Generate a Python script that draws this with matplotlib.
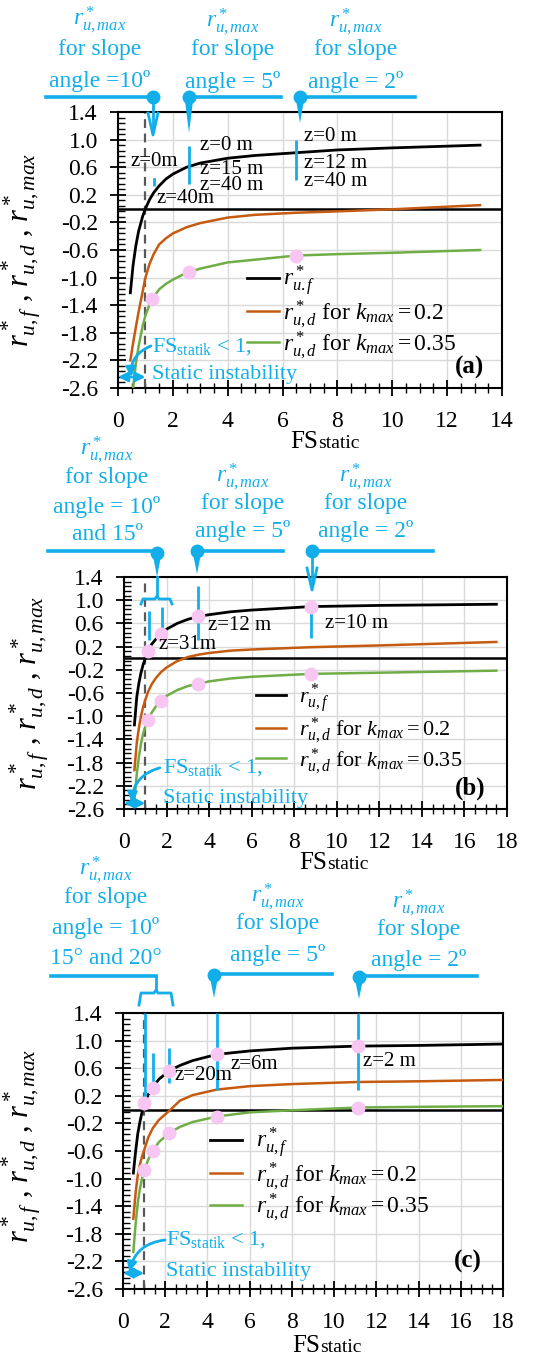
import matplotlib
matplotlib.use('Agg')
import matplotlib.pyplot as plt
import matplotlib.transforms as mtransforms
from matplotlib.lines import Line2D
from matplotlib.patches import Polygon
from matplotlib.ticker import MultipleLocator, FixedLocator
import numpy as np

plt.rcParams['font.family'] = ['Liberation Serif', 'DejaVu Serif']
plt.rcParams['mathtext.fontset'] = 'custom'
plt.rcParams['mathtext.rm'] = 'Liberation Serif'
plt.rcParams['mathtext.it'] = 'Liberation Serif:italic'
plt.rcParams['mathtext.bf'] = 'Liberation Serif:bold'

nan = np.nan

# panel (a)
fs_a = [0.45, 0.55, 0.65, 0.75, 0.9, 1.0, 1.15, 1.3, 1.5, 1.75, 2.0, 2.5, 3.0, 4.0, 5.0, 6.5, 8.0, 10.0, 13.2]
ruf_a = [-1.22, -0.82, -0.54, -0.33, -0.11, 0.0, 0.13, 0.23, 0.33, 0.43, 0.50, 0.60, 0.66, 0.73, 0.77, 0.81, 0.85, 0.88, 0.92]
rud02_a = [-2.2, -1.95, -1.72, -1.5, -1.2, -1.0, -0.8, -0.66, -0.52, -0.43, -0.36, -0.27, -0.21, -0.13, -0.09, -0.06, -0.04, -0.01, 0.05]
rud035_a = [nan, -2.6, -2.25, -2.0, -1.7, -1.55, -1.39, -1.28, -1.17, -1.09, -1.03, -0.93, -0.87, -0.78, -0.74, -0.68, -0.66, -0.64, -0.60]
mk_a = [1.25, 2.6, 6.5]
mk_a_f = []
mk_a_g = [-1.31, -0.92, -0.68]

# panel (b)
fs_b = [0.49, 0.6, 0.7, 0.8, 0.9, 1.0, 1.13, 1.3, 1.5, 1.74, 2.0, 2.5, 3.0, 3.49, 4.0, 5.0, 6.0, 8.79, 12.0, 17.5]
ruf_b = [-1.15, -0.67, -0.43, -0.25, -0.11, 0.0, 0.13, 0.24, 0.33, 0.42, 0.5, 0.6, 0.67, 0.72, 0.75, 0.8, 0.83, 0.89, 0.91, 0.93]
rud02_b = [-1.93, -1.46, -1.2, -1.0, -0.84, -0.72, -0.58, -0.45, -0.34, -0.24, -0.16, -0.05, 0.02, 0.06, 0.09, 0.13, 0.15, 0.19, 0.22, 0.28]
rud035_b = [-2.45, -2.0, -1.7, -1.47, -1.3, -1.18, -1.07, -0.94, -0.83, -0.73, -0.65, -0.55, -0.48, -0.44, -0.4, -0.35, -0.32, -0.27, -0.25, -0.215]
mk_b = [1.13, 1.74, 3.49, 8.79]
mk_b_f = [0.13, 0.42, 0.72, 0.89]
mk_b_g = [-1.07, -0.73, -0.44, -0.27]

# panel (c)
fs_c = [0.49, 0.6, 0.7, 0.8, 0.9, 1.01, 1.2, 1.41, 1.7, 2.18, 2.7, 3.3, 4.44, 6.0, 8.0, 11.12, 14.0, 18.0]
ruf_c = [-0.92, -0.6, -0.35, -0.18, -0.04, 0.09, 0.22, 0.32, 0.44, 0.56, 0.64, 0.71, 0.80, 0.85, 0.89, 0.92, 0.93, 0.95]
rud02_c = [-1.58, -1.2, -0.95, -0.8, -0.68, -0.58, -0.4, -0.27, -0.15, -0.02, 0.13, 0.21, 0.29, 0.34, 0.37, 0.4, 0.41, 0.43]
rud035_c = [-2.06, -1.65, -1.35, -1.15, -1.0, -0.88, -0.72, -0.6, -0.47, -0.34, -0.25, -0.18, -0.1, -0.04, -0.01, 0.03, 0.04, 0.05]
mk_c = [1.01, 1.41, 2.18, 4.44, 11.12]
mk_c_f = [0.09, 0.32, 0.56, 0.80, 0.92]
mk_c_g = [-0.88, -0.60, -0.34, -0.10, 0.03]

yticks = np.round(np.arange(-2.6, 1.41, 0.4), 1)
ylab = r"$r^*_{u,f}$ , $r^*_{u,d}$ , $r^*_{u,max}$"
labels_a = [r"$r^*_{u.f}$", r"$r^*_{u,d}$ for $k_{max} = 0.2$", r"$r^*_{u,d}$ for $k_{max} = 0.35$"]
labels_bc = [r"$r^*_{u,f}$", r"$r^*_{u,d}$ for $k_{max} = 0.2$", r"$r^*_{u,d}$ for $k_{max} = 0.35$"]

BLUE = '#12AEEA'
ORANGE = '#C55A11'
GREEN = '#70AD47'
PINK = '#F7C6F2'

W, H = 533, 1358
fig = plt.figure(figsize=(W / 100, H / 100), dpi=100)
PX = mtransforms.Affine2D().scale(1 / W, -1 / H).translate(0, 1) + fig.transFigure


def ax_px(l, r, t, b):
    return fig.add_axes([l / W, 1 - b / H, (r - l) / W, (b - t) / H])


def setup(ax, xmax):
    ax.set_xlim(0, xmax)
    ax.set_ylim(-2.6, 1.4)
    ax.set_xticks(np.arange(0, xmax + 1, 2))
    ax.xaxis.set_minor_locator(MultipleLocator(0.5))
    ax.set_yticks(yticks)
    ax.set_yticklabels([f"{v:.1f}" for v in yticks])
    ax.yaxis.set_minor_locator(FixedLocator(np.linspace(-2.6, 1.4, 51)))
    ax.grid(which='major', color='#d9d9d9', lw=1)
    ax.set_axisbelow(True)
    ax.tick_params(axis='x', which='major', direction='inout', length=11, width=1.3, labelsize=17, pad=11)
    ax.tick_params(axis='x', which='minor', direction='inout', length=7, width=1.0)
    ax.tick_params(axis='y', which='major', direction='inout', length=11, width=1.3, labelsize=17, pad=9)
    ax.tick_params(axis='y', which='minor', direction='in', length=5, width=1.0)
    for s in ax.spines.values():
        s.set_linewidth(1.5)
    ax.axhline(0, color='black', lw=1.8, zorder=2)
    ax.axvline(1, color='#595959', ls=(0, (4, 2.5)), lw=1.6, zorder=2)


def curves(ax, fs, ruf, r02, r035, mk, mkf, mkg):
    l1, = ax.plot(fs, ruf, color='black', lw=2.0, zorder=3)
    l2, = ax.plot(fs, r02, color=ORANGE, lw=1.8, zorder=3)
    l3, = ax.plot(fs, r035, color=GREEN, lw=1.8, zorder=3)
    if mkf:
        ax.plot(mk, mkf, 'o', color=PINK, ms=9, zorder=5)
    ax.plot(mk, mkg, 'o', color=PINK, ms=9, zorder=5)
    return [l1, l2, l3]


def instability(ax, ytxt1, ytxt2, xtxt, yarr, start, end):
    ax.text(xtxt, ytxt1, r"FS$_{\mathrm{statik}}$ < 1,", transform=ax.transAxes,
            color=BLUE, fontsize=16, va='center', ha='left')
    ax.text(xtxt, ytxt2, "Static instability", transform=ax.transAxes,
            color=BLUE, fontsize=16, va='center', ha='left')
    ax.annotate('', xy=(0, yarr), xytext=(1, yarr), annotation_clip=False,
                arrowprops=dict(arrowstyle='<|-|>', color=BLUE, lw=2, mutation_scale=14,
                                shrinkA=0, shrinkB=0))
    ax.annotate('', xy=end, xytext=start, annotation_clip=False,
                arrowprops=dict(arrowstyle='-|>', color=BLUE, lw=2, mutation_scale=14,
                                connectionstyle='arc3,rad=0.35', shrinkA=0, shrinkB=0))


def hline(x0, x1, y):
    fig.add_artist(Line2D([x0, x1], [y, y], color=BLUE, lw=2.6, transform=PX))


def ball(x, y):
    fig.add_artist(Line2D([x], [y], marker='o', ms=9, color=BLUE, transform=PX))


def wedge(x, y0, y1, w=4.5):
    fig.add_artist(Polygon([(x - w, y0), (x + w, y0), (x, y1)], closed=True,
                           color=BLUE, transform=PX, lw=0))


def vopen(x, y0, y1):
    fig.add_artist(Line2D([x, x], [y0, y1 - 4], color=BLUE, lw=2, transform=PX))
    fig.add_artist(Line2D([x - 5, x, x + 5], [y1 - 22, y1, y1 - 22], color=BLUE, lw=2, transform=PX))


def bracket(xl, xr, xc, y, dy, ytop):
    fig.add_artist(Line2D([xl, xl + 2, xc - 2, xc, xc + 2, xr - 2, xr],
                          [y + dy, y, y, y - 3, y, y, y + dy], color=BLUE, lw=2, transform=PX))
    fig.add_artist(Line2D([xc, xc], [ytop, y - 3], color=BLUE, lw=2, transform=PX))


def block(xc, ys, lines):
    for y, t in zip(ys, lines):
        fig.text(xc, y, t, transform=PX, color=BLUE, fontsize=17, ha='center', va='center')


def fslabel(xs, y):
    fig.text(xs, y, "FS", transform=PX, fontsize=18, ha='right', va='baseline')
    fig.text(xs, y, "static", transform=PX, fontsize=14, ha='left', va='baseline')


def legend(ax, handles, labels, anchor, tpad, size):
    ax.legend(handles, labels, loc='upper left', bbox_to_anchor=anchor, frameon=False,
              fontsize=size, handlelength=1.35, handletextpad=tpad, labelspacing=0.0,
              borderpad=0, borderaxespad=0)


RU = r"$r^*_{u,max}$"

# ---------------- (a)
ax = ax_px(118, 502, 112, 388)
setup(ax, 14)
h = curves(ax, fs_a, ruf_a, rud02_a, rud035_a, mk_a, mk_a_f, mk_a_g)
legend(ax, h, labels_a, (0.335, 0.45), 0.2, 17)
ax.set_ylabel(ylab, fontsize=22)
ax.yaxis.set_label_coords(-0.195, 0.5)
ax.text(0.915, 0.075, "(a)", transform=ax.transAxes, fontsize=18, fontweight='bold',
        ha='center', va='center')
instability(ax, 0.15, 0.048, 0.088, -2.44, (1.2, -1.99), (0.48, -2.44))
ax.vlines([1.3], 0.33, 0.47, color=BLUE, lw=2, linestyles=(0, (3, 2)), zorder=4)
ax.vlines([2.6, 6.5], [0.36, 0.41], [0.9, 1.0], color=BLUE, lw=2, zorder=4)
for x, y, t in [(0.44, 0.68, "z=0m"), (1.41, 0.14, "z=40m"), (2.99, 0.92, "z=0 m"),
                (2.99, 0.57, "z=15 m"), (2.99, 0.33, "z=40 m"), (6.79, 1.05, "z=0 m"),
                (6.79, 0.66, "z=12 m"), (6.79, 0.39, "z=40 m")]:
    ax.text(x, y, t, fontsize=15, ha='left', va='center', zorder=6)
fslabel(318, 448)
block(100, [20, 49, 81], [RU, "for slope", "angle =10º"])
block(233, [22, 50, 82], [RU, "for slope", "angle = 5º"])
block(356, [22, 50, 82], [RU, "for slope", "angle = 2º"])
hline(46, 153, 97); ball(153, 97); vopen(153, 97, 135)
hline(188, 281, 97); ball(189, 97); wedge(189, 97, 133)
hline(297, 415, 97); ball(300, 97); wedge(300, 97, 123)

# ---------------- (b)
ax = ax_px(124, 507, 577, 809)
setup(ax, 18)
h = curves(ax, fs_b, ruf_b, rud02_b, rud035_b, mk_b, mk_b_f, mk_b_g)
legend(ax, h, labels_bc, (0.345, 0.55), 0.6, 16)
ax.set_ylabel(ylab, fontsize=22)
ax.yaxis.set_label_coords(-0.19, 0.5)
ax.text(0.903, 0.09, "(b)", transform=ax.transAxes, fontsize=18, fontweight='bold',
        ha='center', va='center')
instability(ax, 0.177, 0.047, 0.102, -2.5, (1.69, -1.89), (0.36, -2.48))
ax.vlines([1.18, 1.77, 3.49, 8.79], [0.31, 0.37, 0.32, 0.34], [0.82, 0.89, 1.25, 0.97],
          color=BLUE, lw=2, zorder=4)
for x, y, t in [(1.6, 0.23, "z=31m"), (3.95, 0.57, "z=12 m"), (9.45, 0.6, "z=10 m")]:
    ax.text(x, y, t, fontsize=15, ha='left', va='center', zorder=6)
fslabel(327, 869)
block(107, [450, 477, 507, 535], [RU, "for slope", "angle = 10º", "and 15º"])
block(243, [477, 503, 531], [RU, "for slope", "angle = 5º"])
block(366, [477, 503, 531], [RU, "for slope", "angle = 2º"])
hline(48, 157, 551); ball(157, 553); wedge(157, 553, 577)
hline(197, 283, 551); ball(197, 551); wedge(197, 551, 574)
hline(312, 433, 551); ball(312, 551); vopen(312, 551, 590)
bracket(141, 172, 157, 599, 5, 577)

# ---------------- (c)
ax = ax_px(123, 503, 1013, 1289)
setup(ax, 18)
h = curves(ax, fs_c, ruf_c, rud02_c, rud035_c, mk_c, mk_c_f, mk_c_g)
legend(ax, h, labels_bc, (0.228, 0.59), 0.6, 17)
ax.set_ylabel(ylab, fontsize=22)
ax.yaxis.set_label_coords(-0.21, 0.52)
ax.text(0.908, 0.098, "(c)", transform=ax.transAxes, fontsize=18, fontweight='bold',
        ha='center', va='center')
instability(ax, 0.178, 0.062, 0.113, -2.37, (1.99, -1.89), (0.3, -2.35))
ax.vlines([1.04, 1.44, 2.18, 4.44, 11.15], [0.04, 0.28, 0.39, 0.28, 0.28],
          [1.4, 0.82, 0.89, 1.4, 1.4], color=BLUE, lw=2, zorder=4)
for x, y, t in [(2.46, 0.5, "z=20m"), (5.07, 0.65, "z=6m"), (11.37, 0.69, "z=2 m")]:
    ax.text(x, y, t, fontsize=15, ha='left', va='center', zorder=6)
fslabel(320, 1352)
block(106, [870, 897, 928, 958], [RU, "for slope", "angle = 10º", "15° and 20°"])
block(278, [897, 923, 955], [RU, "for slope", "angle = 5º"])
block(419, [903, 930, 960], [RU, "for slope", "angle = 2º"])
hline(51, 156, 976)
bracket(139, 173, 156, 993, 12, 976)
hline(213, 332, 974); ball(214, 975); wedge(214, 975, 998)
hline(358, 477, 976); ball(359, 977); wedge(359, 977, 999)

fig.savefig('out.png', dpi=100)
